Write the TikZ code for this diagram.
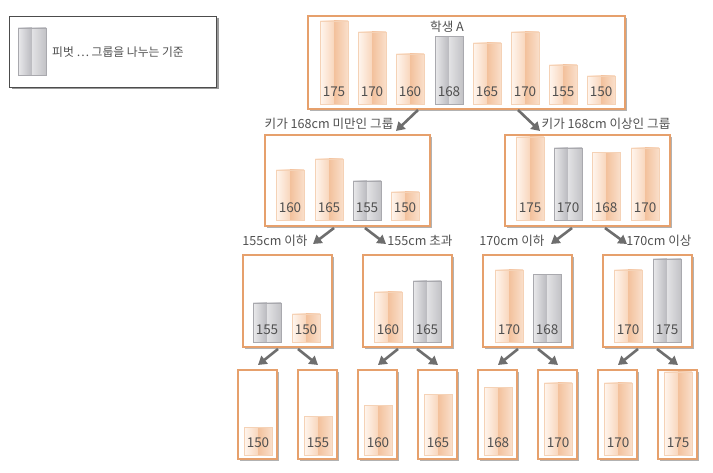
\documentclass[tikz,border=0pt]{standalone}
\usepackage{fontspec}
\setmainfont{Noto Sans CJK KR}
\usetikzlibrary{arrows.meta,shadows}
\definecolor{obA}{HTML}{FFF6EF}
\definecolor{obB}{HTML}{F8D6BC}
\definecolor{obC}{HTML}{F3C19C}
\definecolor{obD}{HTML}{FADFCB}
\definecolor{obL}{HTML}{F5D2B6}
\definecolor{gbA}{HTML}{EAEAEC}
\definecolor{gbB}{HTML}{B9B9BE}
\definecolor{gbC}{HTML}{E2E2E4}
\definecolor{gbD}{HTML}{C2C2C6}
\definecolor{gbL}{HTML}{A9A9AE}
\definecolor{boxline}{HTML}{E6A06C}
\definecolor{arrowgray}{HTML}{6E6E6E}
\definecolor{txt}{HTML}{505050}
\tikzset{
  grpbox/.style={draw=boxline, line width=2pt, fill=white, inner sep=0pt,
    drop shadow={shadow xshift=2pt, shadow yshift=-2pt, fill=black!30, opacity=1}},
  legbox/.style={draw=black!70, line width=0.8pt, fill=white, inner sep=0pt,
    drop shadow={shadow xshift=2.5pt, shadow yshift=-2.5pt, fill=black!40, opacity=1}},
  num/.style={text=txt, font=\fontsize{13.5}{13.5}\selectfont, inner sep=0pt},
  lbl/.style={text=txt, font=\fontsize{12.6}{12.6}\selectfont, inner sep=0pt},
  arr/.style={draw=arrowgray, line width=2.6pt, -{Triangle[width=10pt,length=8.5pt]}, shorten >=0pt},
}
\newcommand\obar[4]{%
  \pgfmathsetmacro\hh{28+2.2*(#4-150)}%
  \shade[left color=obA, right color=obB] (#2,#3) rectangle ++(14,-\hh);
  \shade[left color=obC, right color=obD] (#2+14,#3) rectangle ++(14,-\hh);
  \draw[obL, line width=0.8pt] (#2,#3) rectangle ++(28,-\hh);
  \node[num] (#1) at (#2+14,#3-12) {#4};
}
\newcommand\gbar[4]{%
  \pgfmathsetmacro\hh{28+2.2*(#4-150)}%
  \shade[left color=gbA, right color=gbB] (#2,#3) rectangle ++(14,-\hh);
  \shade[left color=gbC, right color=gbD] (#2+14,#3) rectangle ++(14,-\hh);
  \draw[gbL, line width=0.8pt] (#2,#3) rectangle ++(28,-\hh);
  \node[num] (#1) at (#2+14,#3-12) {#4};
}
\begin{document}
\begin{tikzpicture}[x=1pt,y=-1pt]
\useasboundingbox (0,0) rectangle (713,473);
% legend
\node[legbox, minimum width=207pt, minimum height=71pt] (leg) at (112.5,51.5) {};
\shade[left color=gbA, right color=gbB] (18,75) rectangle (32,28);
\shade[left color=gbC, right color=gbD] (32,75) rectangle (46,28);
\draw[gbL, line width=0.8pt] (18,75) rectangle (46,28);
\node[lbl, anchor=west, font=\fontsize{11.8}{11.8}\selectfont] (legtxt) at (52,52) {피벗 ⋯ 그룹을 나누는 기준};
% boxes
\node[grpbox, minimum width=317pt, minimum height=93pt] (top) at (466,62.5) {};
\node[grpbox, minimum width=165pt, minimum height=91pt] (L) at (347.5,180.5) {};
\node[grpbox, minimum width=165pt, minimum height=91pt] (R) at (587.5,180.5) {};
\node[grpbox, minimum width=89pt, minimum height=92pt] (LL) at (287.5,301) {};
\node[grpbox, minimum width=89pt, minimum height=92pt] (LR) at (407,301) {};
\node[grpbox, minimum width=89pt, minimum height=92pt] (RL) at (527.5,301) {};
\node[grpbox, minimum width=89pt, minimum height=92pt] (RR) at (647,301) {};
\foreach \n/\x in {f1/257.5,f2/317.5,f3/377.5,f4/437.5,f5/497.5,f6/557.5,f7/617.5,f8/677.5}{
  \node[grpbox, minimum width=39pt, minimum height=89pt] (\n) at (\x,414.5) {};
}
% bars top
\obar{t1}{320}{104}{175}
\obar{t2}{358}{104}{170}
\obar{t3}{396}{104}{160}
\gbar{t4}{435}{104}{168}
\obar{t5}{473}{104}{165}
\obar{t6}{511}{104}{170}
\obar{t7}{549}{104}{155}
\obar{t8}{587}{104}{150}
\node[lbl] (ttl) at (447,27) {학생 A};
% level 2
\obar{l1}{276}{220}{160}
\obar{l2}{315}{220}{165}
\gbar{l3}{353}{220}{155}
\obar{l4}{391}{220}{150}
\obar{r1}{516}{220}{175}
\gbar{r2}{554}{220}{170}
\obar{r3}{592}{220}{168}
\obar{r4}{631}{220}{170}
% level 3
\gbar{ll1}{253}{342}{155}
\obar{ll2}{292}{342}{150}
\obar{lr1}{374}{342}{160}
\gbar{lr2}{413}{342}{165}
\obar{rl1}{495}{342}{170}
\gbar{rl2}{533}{342}{168}
\obar{rr1}{614}{342}{170}
\gbar{rr2}{653}{342}{175}
% level 4
\obar{e1}{244}{455}{150}
\obar{e2}{304}{455}{155}
\obar{e3}{364}{455}{160}
\obar{e4}{424}{455}{165}
\obar{e5}{484}{455}{168}
\obar{e6}{544}{455}{170}
\obar{e7}{604}{455}{170}
\obar{e8}{664}{455}{175}
% labels
\node[lbl] (lab1) at (329,124) {키가 168cm 미만인 그룹};
\node[lbl] (lab2) at (606,124) {키가 168cm 이상인 그룹};
\node[lbl] (lab3) at (275,241) {155cm 이하};
\node[lbl] (lab4) at (420,241) {155cm 초과};
\node[lbl] (lab5) at (512,241) {170cm 이하};
\node[lbl] (lab6) at (659,241) {170cm 이상};
% arrow coordinates
\coordinate (a1s) at (418,110); \coordinate (a1e) at (396,131);
\coordinate (a2s) at (518,110); \coordinate (a2e) at (540,131);
\coordinate (b1s) at (334,228); \coordinate (b1e) at (313,244);
\coordinate (b2s) at (365,228); \coordinate (b2e) at (386,244);
\coordinate (b3s) at (572,228); \coordinate (b3e) at (551,244);
\coordinate (b4s) at (605,228); \coordinate (b4e) at (627,244);
\draw[arr] (a1s) -- (a1e);
\draw[arr] (a2s) -- (a2e);
\draw[arr] (b1s) -- (b1e);
\draw[arr] (b2s) -- (b2e);
\draw[arr] (b3s) -- (b3e);
\draw[arr] (b4s) -- (b4e);
\foreach \s/\e in {278/258,298/318,398/378,417/438,518/498,538/558,638/618,657/678}{
  \coordinate (cs) at (\s,349); \coordinate (ce) at (\e,365);
  \draw[arr] (cs) -- (ce);
}
\end{tikzpicture}
\end{document}
